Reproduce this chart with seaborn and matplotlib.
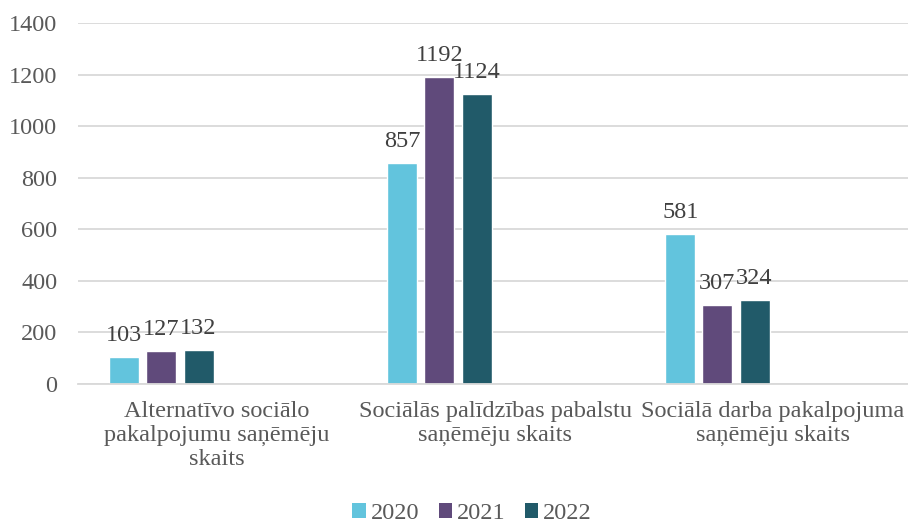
import matplotlib
matplotlib.use("Agg")
import matplotlib.pyplot as plt
import seaborn as sns
import pandas as pd
from matplotlib.patches import Patch

categories = ["Alternatīvo sociālo\npakalpojumu saņēmēju\nskaits",
              "Sociālās palīdzības pabalstu\nsaņēmēju skaits",
              "Sociālā darba pakalpojuma\nsaņēmēju skaits"]
years = ["2020", "2021", "2022"]
v2020 = [103, 857, 581]
v2021 = [127, 1192, 307]
v2022 = [132, 1124, 324]
colors = ["#62C4DD", "#604A7B", "#215A69"]

rows = []
for yr, vals in zip(years, [v2020, v2021, v2022]):
    for c, v in zip(categories, vals):
        rows.append({"cat": c, "year": yr, "value": v})
df = pd.DataFrame(rows)

sns.set_theme(style="white")
plt.rcParams["font.serif"] = ["Liberation Serif", "DejaVu Serif"]
plt.rcParams["font.family"] = ["serif"]
FS = 17.5

fig = plt.figure(figsize=(9.08, 5.27), dpi=100)
ax = fig.add_axes([0.086, 0.2713, 0.9185, 0.6851])

# empty slots reserved to the right of the three years (as in original chart)
pad_levels = [" ", "  ", "   "]
hue_order = years + pad_levels
palette = dict(zip(years, colors))
palette.update({p: "white" for p in pad_levels})

sns.barplot(data=df, x="cat", y="value", hue="year", hue_order=hue_order,
            palette=palette, order=categories, ax=ax, width=0.8, gap=0.19,
            legend=False, errorbar=None, saturation=1)

for cont in ax.containers:
    ax.bar_label(cont, padding=8, fontsize=FS, color="#404040")

ax.set_ylim(0, 1400)
ax.set_yticks(range(0, 1401, 200))
ax.set_xlim(-0.5, 2.5)
ax.yaxis.grid(True, color="#D9D9D9", linewidth=1.3)
ax.set_axisbelow(True)
for s in ["top", "right", "left"]:
    ax.spines[s].set_visible(False)
ax.spines["bottom"].set_color("#D9D9D9")
ax.spines["bottom"].set_linewidth(1.3)
ax.tick_params(axis="y", labelsize=FS, labelcolor="#595959", length=0, pad=15)
ax.tick_params(axis="x", labelsize=FS, labelcolor="#595959", length=0, pad=12)
for lbl in ax.get_xticklabels():
    lbl.set_linespacing(1.2)
ax.set_xlabel("")
ax.set_ylabel("")

handles = [Patch(facecolor=c, edgecolor="none") for c in colors]
fig.legend(handles, years, loc="lower center", bbox_to_anchor=(0.52, -0.036),
           ncol=3, frameon=False, fontsize=FS, labelcolor="#595959",
           handlelength=0.55, handleheight=0.55, handletextpad=0.2,
           columnspacing=0.8)

fig.savefig("out.png", dpi=100)
